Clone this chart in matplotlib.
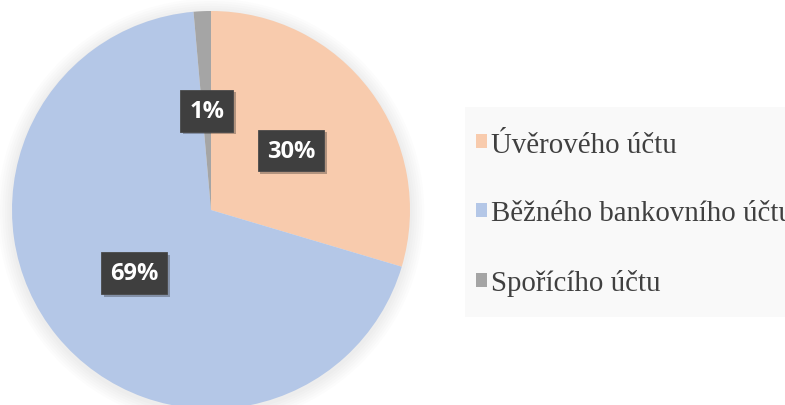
import matplotlib.pyplot as plt
import matplotlib.patheffects as pe
from matplotlib.patches import Patch, Circle, Rectangle

# data
categories = ['Úvěrového účtu', 'Běžného bankovního účtu', 'Spořícího účtu']
shares = [29.6, 69.0, 1.4]
colors = ['#F8CBAD', '#B4C7E7', '#A5A5A5']

fig = plt.figure(figsize=(7.85, 4.06), dpi=100)
fig.patch.set_facecolor('white')

# pie axes (circle centre ~ (211, 211) px, radius ~199 px)
ax = fig.add_axes([12 / 785, (406 - 410) / 406, 398 / 785, 398 / 406])

# soft glow around the pie
for k in range(6):
    ax.add_patch(Circle((0.0, -0.01), 1.0 + 0.012 * (k + 1), color='#000000',
                        alpha=0.01, lw=0, zorder=0, clip_on=False))

wedges, texts, autotexts = ax.pie(shares, colors=colors, startangle=90, counterclock=False,
                                  radius=1.0, autopct='%.0f%%', pctdistance=0.5,
                                  wedgeprops=dict(linewidth=0), frame=False)
ax.set_xlim(-1, 1)
ax.set_ylim(-1, 1)
ax.set_aspect('equal')
ax.axis('off')

for w in wedges:
    w.set_zorder(2)
    w.set_clip_on(False)
for t in autotexts:
    t.set_color('white')
    t.set_fontsize(17)
    t.set_fontweight('bold')
    t.set_family(['Open Sans', 'DejaVu Sans'])
    t.set_zorder(5)
    t.set_bbox(dict(boxstyle='square,pad=0.38', facecolor='#3f3f3f', edgecolor='#4a4a4a',
                    linewidth=0.6))
    t.get_bbox_patch().set_path_effects([pe.SimplePatchShadow(offset=(2, -2), alpha=0.3),
                                         pe.Normal()])

# light legend background
fig.patches.append(Rectangle((465 / 785, 1 - 318 / 406), 320 / 785, 210 / 406,
                             transform=fig.transFigure, facecolor='#f9f9f9',
                             edgecolor='none', zorder=0))

handles = [Patch(facecolor=c, edgecolor='none') for c in colors]
leg = fig.legend(handles, categories, loc='center left', bbox_to_anchor=(465 / 785, 1 - 215 / 406),
                 frameon=False, prop=dict(family='Liberation Serif', size=20.8),
                 handlelength=0.37, handleheight=0.37, handletextpad=0.14,
                 labelspacing=1.48, borderpad=0.38, borderaxespad=0)
for txt in leg.get_texts():
    txt.set_color('#404040')

fig.savefig('out.png', dpi=100, facecolor='white')
